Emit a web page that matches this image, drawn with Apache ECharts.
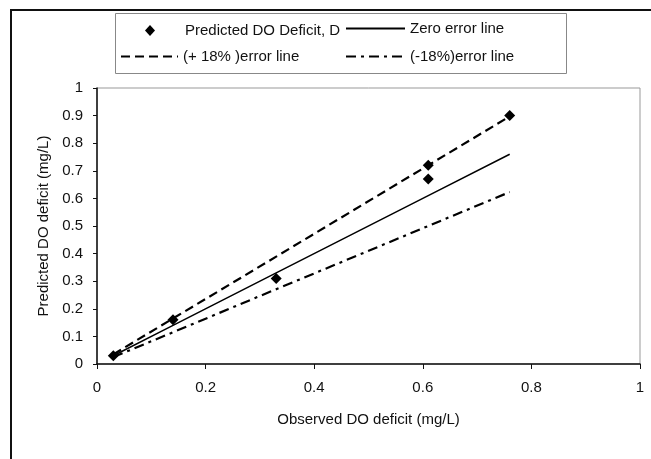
<!DOCTYPE html>
<html>
<head>
<meta charset="utf-8">
<title>Predicted vs observed DO deficit</title>
<script src="https://cdn.jsdelivr.net/npm/echarts@6/dist/echarts.min.js"></script>
<style>
  html, body { margin: 0; padding: 0; background: #fff; }
  #chart { width: 651px; height: 459px; }
</style>
</head>
<body>
<div id="chart"></div>
<script>
// Observed vs predicted dissolved-oxygen deficit (mg/L)
const observed  = [0.03, 0.14, 0.33, 0.61, 0.61, 0.76];
const predicted = [0.03, 0.16, 0.31, 0.67, 0.72, 0.90];

// Reference lines, sampled at the observed deficits
const lineX       = [0.03, 0.14, 0.33, 0.61, 0.76];
const zeroError   = [0.03, 0.14, 0.33, 0.61, 0.76];
const plus18      = [0.035, 0.165, 0.389, 0.720, 0.897];
const minus18     = [0.025, 0.115, 0.271, 0.500, 0.623];

// Axis tick labels
const xTickLabels = ['0', '0.2', '0.4', '0.6', '0.8', '1'];
const yTickLabels = ['0', '0.1', '0.2', '0.3', '0.4', '0.5', '0.6', '0.7', '0.8', '0.9', '1'];

const seriesNames = ['Predicted DO Deficit, D', 'Zero error line', '(+ 18% )error line', '(-18%)error line'];

const pairs = (xs, ys) => xs.map((x, i) => [x, ys[i]]);

const FONT = '"Liberation Sans", Arial, sans-serif';
const textStyle = { fontFamily: FONT, fontSize: 15, color: '#111' };

// one legend entry per block so each sits in its own column / row
function lineLegend(name, left, top, width) {
  return {
    data: [name], left: left, top: top,
    itemWidth: width, itemHeight: 14, itemGap: 0, padding: 0,
    selectedMode: false, textStyle: textStyle,
    itemStyle: { opacity: 0 }
  };
}

const chart = echarts.init(document.getElementById('chart'), null, { renderer: 'canvas' });
chart.setOption({
  backgroundColor: '#fff',
  animation: false,
  textStyle: textStyle,
  graphic: [
    // outer chart frame (top and left edges visible)
    { type: 'rect', shape: { x: 11, y: 10, width: 700, height: 500 },
      style: { fill: 'none', stroke: '#111', lineWidth: 2 }, z: -1 },
    // legend frame
    { type: 'rect', shape: { x: 115.5, y: 13.5, width: 451, height: 60 },
      style: { fill: 'none', stroke: '#888', lineWidth: 1 }, z: -1 }
  ],
  legend: [
    {
      data: [{ name: seriesNames[0], icon: 'diamond' }],
      left: 145, top: 23, itemWidth: 10, itemHeight: 11, padding: 0,
      selectedMode: false,
      itemStyle: { color: '#000', opacity: 1 },
      textStyle: Object.assign({}, textStyle, { padding: [0, 0, 0, 25] })
    },
    lineLegend(seriesNames[1], 345, 21, 59),
    lineLegend(seriesNames[2], 120, 49, 57),
    lineLegend(seriesNames[3], 345, 49, 59)
  ],
  grid: {
    left: 97, right: 11, top: 88, bottom: 95,
    show: true, borderColor: '#999', borderWidth: 1, backgroundColor: 'transparent'
  },
  xAxis: {
    type: 'value', min: 0, max: 1, interval: 0.2,
    name: 'Observed DO deficit (mg/L)', nameLocation: 'middle', nameGap: 48,
    nameTextStyle: textStyle,
    axisLine: { show: true, lineStyle: { color: '#111', width: 1.5 } },
    axisTick: { show: true, length: 5, lineStyle: { color: '#111' } },
    splitLine: { show: false },
    axisLabel: {
      margin: 16, fontFamily: FONT, fontSize: 15, color: '#111',
      formatter: (v) => xTickLabels[Math.round(v / 0.2)]
    }
  },
  yAxis: {
    type: 'value', min: 0, max: 1, interval: 0.1,
    name: 'Predicted DO deficit (mg/L)', nameLocation: 'middle', nameGap: 44,
    nameTextStyle: textStyle,
    axisLine: { show: true, lineStyle: { color: '#111', width: 1.5 } },
    axisTick: { show: true, length: 4, lineStyle: { color: '#111' } },
    splitLine: { show: false },
    axisLabel: {
      margin: 14, fontFamily: FONT, fontSize: 15, color: '#111',
      formatter: (v) => yTickLabels[Math.round(v / 0.1)]
    }
  },
  series: [
    {
      name: seriesNames[0], type: 'scatter', symbol: 'diamond', symbolSize: 11,
      itemStyle: { color: '#000', opacity: 1 }, z: 5,
      data: pairs(observed, predicted)
    },
    {
      name: seriesNames[1], type: 'line', symbol: 'none', showSymbol: false,
      lineStyle: { color: '#000', width: 1.5, type: 'solid' },
      itemStyle: { color: '#000' },
      data: pairs(lineX, zeroError)
    },
    {
      name: seriesNames[2], type: 'line', symbol: 'none', showSymbol: false,
      lineStyle: { color: '#000', width: 2.2, type: [9, 5] },
      itemStyle: { color: '#000' },
      data: pairs(lineX, plus18)
    },
    {
      name: seriesNames[3], type: 'line', symbol: 'none', showSymbol: false,
      lineStyle: { color: '#000', width: 2.2, type: [10, 5, 3, 5] },
      itemStyle: { color: '#000' },
      data: pairs(lineX, minus18)
    }
  ]
});
</script>
</body>
</html>
